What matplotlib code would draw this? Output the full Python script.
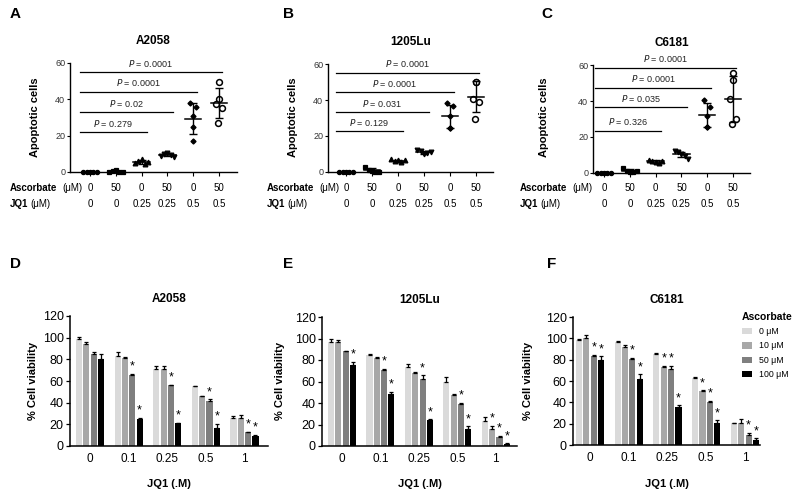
import matplotlib
matplotlib.use("Agg")
import matplotlib.pyplot as plt
import numpy as np
from matplotlib.transforms import blended_transform_factory

plt.rcParams['font.family'] = ['Liberation Sans', 'DejaVu Sans']

# ---------------- data: top row (apoptosis scatter) ----------------
ascorbate_top = ["0", "50", "0", "50", "0", "50"]
jq1_top = ["0", "0", "0.25", "0.25", "0.5", "0.5"]

A_points = [[0, 0, 0, 0, 0], [0, 0.5, 1, 0, 0], [5, 6, 7, 4.5, 5.5],
            [9, 10, 10.5, 9.5, 8.5], [38, 36, 31, 24.6, 17], [49.8, 40.1, 37.4, 35.2, 27]]
B_points = [[0, 0, 0, 0, 0], [3, 1, 0.5, 0, 0], [7, 6, 6.5, 5.5, 6.5],
            [12, 11.5, 10, 10.5, 11], [38.1, 36.7, 31.1, 24.6, 24.6], [50, 50, 40.4, 38.9, 29.6]]
C_points = [[0, 0, 0, 0, 0], [3, 1, 0.5, 0.5, 1], [7.5, 6.5, 6, 5.5, 6.5],
            [12, 11.5, 10.5, 9.5, 8], [40.6, 36.5, 31.7, 25.8, 25.5], [55.7, 51.7, 41, 29.9, 27.3]]

A_pvals = ["0.279", "0.02", "0.0001", "0.0001"]
B_pvals = ["0.129", "0.031", "0.0001", "0.0001"]
C_pvals = ["0.326", "0.035", "0.0001", "0.0001"]

# ---------------- data: bottom row (viability bars) ----------------
jq1_bottom = ["0", "0.1", "0.25", "0.5", "1"]
asc_levels = ["0 \u03bcM", "10 \u03bcM", "50 \u03bcM", "100 \u03bcM"]

D_means = [[99, 94, 84.5, 80.5], [83, 81, 65.4, 25.3], [71, 71, 56, 21],
           [55, 45.7, 42, 17], [26, 26, 12.6, 9.6]]
D_errs = [[1.5, 2, 2, 4], [3.5, 1, 1.5, 0.7], [3, 3, 0.7, 0.5],
          [0.7, 0.5, 1, 3.4], [1.5, 2.5, 0.7, 0.7]]
D_stars = [[0, 0, 0, 0], [0, 0, 1, 1], [0, 0, 1, 1], [0, 0, 1, 1], [0, 0, 1, 1]]

E_means = [[96.7, 96.7, 88, 75.7], [85, 82, 71, 48], [73.5, 68, 62.6, 24],
           [59.5, 47.5, 39.4, 16], [23, 16, 8, 1.5]]
E_errs = [[3, 1.5, 0.7, 2.5], [0.7, 1, 1, 2.5], [3, 0.7, 3.2, 0.7],
          [4.5, 0.7, 0.7, 2.5], [4, 3, 1.5, 1]]
E_stars = [[0, 0, 0, 1], [0, 0, 1, 1], [0, 0, 1, 1], [0, 0, 1, 1], [0, 1, 1, 1]]

F_means = [[98.8, 100.3, 83, 79.4], [96.6, 92, 80.4, 62.3], [85, 73.2, 71, 35.8],
           [63.2, 50.8, 40, 20.9], [20.2, 20.2, 9.3, 4.7]]
F_errs = [[0.7, 2.5, 1.7, 3.6], [0.7, 1.5, 1.5, 4], [1, 1, 3.5, 1.5],
          [0.5, 0.5, 1.5, 2.5], [0.7, 4.4, 2.2, 1.5]]
F_stars = [[0, 0, 1, 1], [0, 0, 1, 1], [0, 1, 1, 1], [0, 1, 1, 1], [0, 0, 1, 1]]

# ---------------- layout / style ----------------
W, H = 800, 493
fig = plt.figure(figsize=(8, 4.93), dpi=100)


def rect(l, r, t, b):
    return [l / W, 1 - b / H, (r - l) / W, (b - t) / H]


bar_colors = ["#dadada", "#a8a8a8", "#7f7f7f", "#000000"]
markers = ["o", "s", "^", "v", "D", "o"]
msizes = [3.0, 3.2, 3.4, 3.4, 2.6, 4.2]
jitters = [[-0.26, -0.13, 0.0, 0.13, 0.26], [-0.26, -0.13, 0.0, 0.13, 0.26],
           [-0.26, -0.13, 0.0, 0.13, 0.26], [-0.26, -0.13, 0.0, 0.13, 0.26],
           [-0.12, 0.12, 0.0, 0.0, 0.0], [0.0, 0.0, -0.12, 0.12, -0.05]]
pline_y = {"A": [22, 33, 44.2, 54.9], "B": [22.5, 33.4, 44.5, 55.2], "C": [23.6, 36.5, 47.4, 58.5]}


def top_panel(letter, title, points, pvals, l, r, t, b, xlim, letter_x, ylab_x, rowlab_x):
    ax = fig.add_axes(rect(l, r, t, b))
    x = np.arange(len(points))
    for i, pts in enumerate(points):
        xs = x[i] + np.array(jitters[i])
        filled = i < 5
        ax.plot(xs, pts, linestyle="none", marker=markers[i], ms=msizes[i],
                mfc="black" if filled else "white", mec="black", mew=0.9 if filled else 1.1,
                clip_on=False, zorder=3)
        m = np.mean(pts)
        sd = np.std(pts, ddof=1)
        ax.plot([x[i] - 0.32, x[i] + 0.32], [m, m], color="black", lw=1.1, zorder=4)
        ax.errorbar([x[i]], [m], yerr=[[sd], [sd]], fmt="none", ecolor="black",
                    elinewidth=1.0, capsize=3, capthick=1.0, zorder=4)
    ends = [2.2, 3.2, 4.15, 5.1]
    for k, (pv, yy) in enumerate(zip(pvals, pline_y[letter])):
        x0, x1 = -0.4 if letter != "C" else -0.35, ends[k]
        ax.plot([x0, x1], [yy, yy], color="black", lw=0.9, clip_on=False)
        ax.text((x0 + x1) / 2, yy + 1.8, f"$P$ = {pv}", ha="center", va="bottom", fontsize=6.5,
                color="#222222")
    ax.set_xlim(*xlim)
    ax.set_ylim(0, 60)
    ax.set_yticks([0, 20, 40, 60])
    ax.set_xticks(x)
    ax.set_xticklabels([])
    ax.tick_params(axis="x", length=3, width=0.8)
    ax.tick_params(axis="y", length=2, width=0.8, labelsize=6.5, labelcolor="#333333", pad=1.5)
    for s in ["top", "right"]:
        ax.spines[s].set_visible(False)
    for s in ["left", "bottom"]:
        ax.spines[s].set_linewidth(1.0)
    ax.set_ylabel("Apoptotic cells", fontsize=8, fontweight="bold")
    ax.yaxis.set_label_coords(ylab_x / W, 1 - 117 / H, transform=fig.transFigure)
    ax.set_title(title, fontsize=8.5, fontweight="bold", pad=14)
    fig.text(letter_x / W, 1 - 14 / H, letter, fontsize=11, fontweight="bold", va="center")
    tr = blended_transform_factory(ax.transData, fig.transFigure)
    for i in range(len(points)):
        ax.text(x[i], 1 - 188 / H, ascorbate_top[i], transform=tr, ha="center", va="center",
                fontsize=7, clip_on=False)
        ax.text(x[i], 1 - 204 / H, jq1_top[i], transform=tr, ha="center", va="center",
                fontsize=7, clip_on=False)
    fig.text(rowlab_x / W, 1 - 188 / H, "Ascorbate", fontsize=7, fontweight="bold", va="center")
    fig.text(rowlab_x / W + 0.066, 1 - 188 / H, "(\u03bcM)", fontsize=7, va="center")
    fig.text(rowlab_x / W, 1 - 204 / H, "JQ1", fontsize=7, fontweight="bold", va="center")
    fig.text(rowlab_x / W + 0.026, 1 - 204 / H, "(\u03bcM)", fontsize=7, va="center")
    return ax


top_panel("A", "A2058", A_points, A_pvals, 70, 237, 63, 172, (-0.78, 5.7), 10, 40, 10)
top_panel("B", "1205Lu", B_points, B_pvals, 328, 493, 64, 172, (-0.69, 5.65), 283, 298, 267)
top_panel("C", "C6181", C_points, C_pvals, 593, 750, 65, 173, (-0.43, 5.66), 541, 549, 520)


def bottom_panel(letter, title, means, errs, stars, l, r, t, b, xlim, letter_x, ylab_x, legend=False):
    ax = fig.add_axes(rect(l, r, t, b))
    means = np.array(means)
    errs = np.array(errs)
    x = np.arange(len(jq1_bottom))
    step, width = 0.19, 0.158
    for j in range(4):
        xs = x + (j - 1.5) * step
        ax.bar(xs, means[:, j], width=width, color=bar_colors[j], label=asc_levels[j], zorder=2)
        ax.errorbar(xs, means[:, j], yerr=[np.zeros(len(x)), errs[:, j]], fmt="none",
                    ecolor="black", elinewidth=0.9, capsize=1.4, capthick=0.9, zorder=3)
        for i in range(len(x)):
            if stars[i][j]:
                ax.text(xs[i], means[i, j] + errs[i, j] + 1.0, "*", ha="center", va="bottom",
                        fontsize=9)
    ax.set_xlim(*xlim)
    ax.set_ylim(0, 120)
    ax.set_yticks(np.arange(0, 121, 20))
    ax.set_xticks(x)
    ax.set_xticklabels(jq1_bottom)
    ax.tick_params(axis="x", length=0, labelsize=8.5, pad=5)
    ax.tick_params(axis="y", length=3, width=0.9, labelsize=9, pad=1.5)
    for s in ["top", "right"]:
        ax.spines[s].set_visible(False)
    for s in ["left", "bottom"]:
        ax.spines[s].set_linewidth(1.1)
    ax.set_ylabel("% Cell viability", fontsize=8, fontweight="bold")
    ax.yaxis.set_label_coords(ylab_x / W, 1 - 381 / H, transform=fig.transFigure)
    ax.set_xlabel("JQ1 (.M)", fontsize=8, fontweight="bold")
    ax.xaxis.set_label_coords((l + r) / 2 / W, 1 - 479 / H, transform=fig.transFigure)
    ax.set_title(title, fontsize=8.5, fontweight="bold", pad=10)
    fig.text(letter_x / W, 1 - 264 / H, letter, fontsize=11, fontweight="bold", va="center")
    if legend:
        leg = ax.legend(loc="upper left", bbox_to_anchor=(742 / W, 1 - 312 / H),
                        bbox_transform=fig.transFigure, frameon=False, fontsize=6.3,
                        title="Ascorbate", handlelength=1.1, handleheight=0.7,
                        handletextpad=0.8, labelspacing=0.6, borderpad=0, borderaxespad=0)
        leg.get_title().set_fontweight("bold")
        leg.get_title().set_fontsize(7.5)
        leg._legend_box.align = "left"
    return ax


bottom_panel("D", "A2058", D_means, D_errs, D_stars, 70, 268, 316, 446, (-0.52, 4.61), 10, 38)
bottom_panel("E", "1205Lu", E_means, E_errs, E_stars, 322, 517, 317, 446, (-0.52, 4.55), 283, 285)
bottom_panel("F", "C6181", F_means, F_errs, F_stars, 573, 760, 317, 445, (-0.44, 4.39), 547, 533,
             legend=True)

fig.savefig("out.png", dpi=100)
